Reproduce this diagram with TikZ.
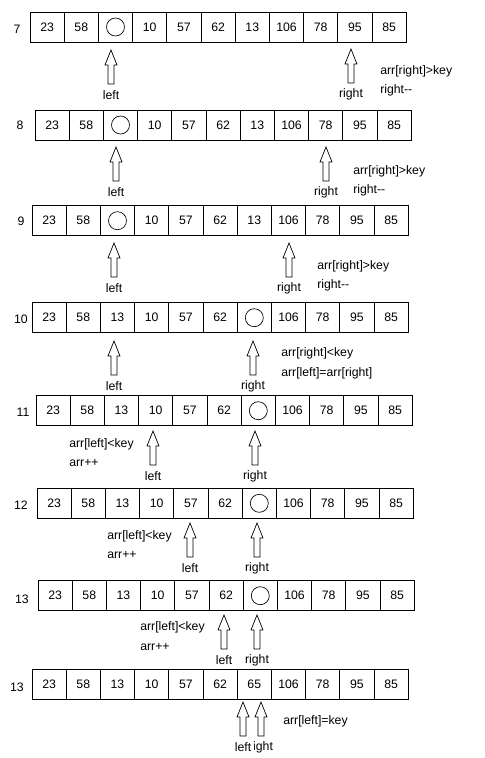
\documentclass[tikz,border=0pt]{standalone}
\usepackage{fontspec}
\setmainfont{Liberation Sans}
\newcommand{\cellrow}[4]{%
  \foreach \v [count=\i] in {#4}
    \node[cell] (#1-\i) at ({#2+(\i-0.5)*34.2},{#3+15}) {\v};
}
\begin{document}
\begin{tikzpicture}[x=0.75pt,y=-0.75pt,
  font=\fontsize{9.2}{10}\selectfont,
  cell/.style={draw,line width=0.6pt,minimum width=25.65pt,minimum height=22.5pt,inner sep=0pt},
  hole/.style={draw,circle,line width=0.5pt,minimum size=13.5pt,inner sep=0pt},
  note/.style={anchor=west,inner sep=0pt},
  ptr/.pic={
    \draw[line width=0.5pt] (0,0) -- (6,15) -- (3,15) -- (3,34) -- (-3,34) -- (-3,15) -- (-6,15) -- cycle;
    \node[fill=white,inner xsep=2pt,inner ysep=0pt] (-lab) at (0,45) {#1};
  }]
\useasboundingbox (0,0) rectangle (485,758);

\node (n1) at (17,29) {7};
\cellrow{r1}{30}{12}{23,58,{},10,57,62,13,106,78,95,85}
\node[hole] (h1) at (r1-3) {};
\pic (p1l) at (111,50) {ptr=left};
\pic (p1r) at (351,49) {ptr=right};
\node[note] (a1) at (380,71) {arr[right]>key};
\node[note] (b1) at (380,90) {right-{}-};

\node (n2) at (20,125) {8};
\cellrow{r2}{35}{110}{23,58,{},10,57,62,13,106,78,95,85}
\node[hole] (h2) at (r2-3) {};
\pic (p2l) at (116,147) {ptr=left};
\pic (p2r) at (326,147) {ptr=right};
\node[note] (a2) at (353,171) {arr[right]>key};
\node[note] (b2) at (353,190) {right-{}-};

\node (n3) at (21,221) {9};
\cellrow{r3}{32}{205.7}{23,58,{},10,57,62,13,106,78,95,85}
\node[hole] (h3) at (r3-3) {};
\pic (p3l) at (114,243) {ptr=left};
\pic (p3r) at (289,243) {ptr=right};
\node[note] (a3) at (317,266) {arr[right]>key};
\node[note] (b3) at (317,285.7) {right-{}-};

\node (n4) at (21,319) {10};
\cellrow{r4}{32}{302.7}{23,58,13,10,57,62,{},106,78,95,85}
\node[hole] (h4) at (r4-7) {};
\pic (p4l) at (114,341) {ptr=left};
\pic (p4r) at (253,341) {ptr=right};
\node[note] (a4) at (281,353) {arr[right]<key};
\node[note] (b4) at (281,373) {arr[left]=arr[right]};

\node (n5) at (23,412) {11};
\cellrow{r5}{36}{395.7}{23,58,13,10,57,62,{},106,78,95,85}
\node[hole] (h5) at (r5-7) {};
\pic (p5l) at (153,431) {ptr=left};
\pic (p5r) at (255,431) {ptr=right};
\node[note] (a5) at (69,444) {arr[left]<key};
\node[note] (b5) at (69,463) {arr++};

\node (n6) at (21,505) {12};
\cellrow{r6}{37}{488.3}{23,58,13,10,57,62,{},106,78,95,85}
\node[hole] (h6) at (r6-7) {};
\pic (p6l) at (190,523) {ptr=left};
\pic (p6r) at (257,523) {ptr=right};
\node[note] (a6) at (107,536) {arr[left]<key};
\node[note] (b6) at (107,555) {arr++};

\node (n7) at (22,599) {13};
\cellrow{r7}{38}{580.7}{23,58,13,10,57,62,{},106,78,95,85}
\node[hole] (h7) at (r7-7) {};
\pic (p7l) at (224,615) {ptr=left};
\pic (p7r) at (257,615) {ptr=right};
\node[note] (a7) at (140,627) {arr[left]<key};
\node[note] (b7) at (140,647) {arr++};

\node (n8) at (17,687) {13};
\cellrow{r8}{32}{669.3}{23,58,13,10,57,62,65,106,78,95,85}
\pic (p8r) at (261,702) {ptr=right};
\pic (p8l) at (243,702) {ptr=left};
\node[note] (a8) at (283,721) {arr[left]=key};
\end{tikzpicture}
\end{document}
